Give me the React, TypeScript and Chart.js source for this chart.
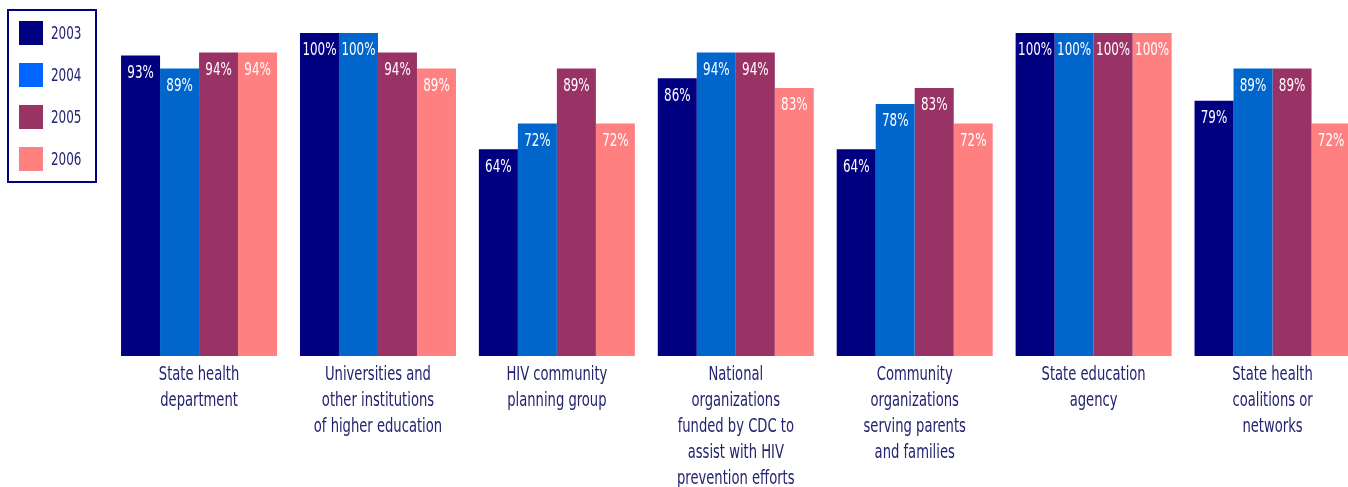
import React, { useEffect, useRef } from "react";
import { Chart, registerables } from "chart.js";

Chart.register(...registerables);

const categories: string[][] = [
  ["State health", "department"],
  ["Universities and", "other institutions", "of higher education"],
  ["HIV community", "planning group"],
  ["National", "organizations", "funded by CDC to", "assist with HIV", "prevention efforts"],
  ["Community", "organizations", "serving parents", "and families"],
  ["State education", "agency"],
  ["State health", "coalitions or", "networks"],
];

const years = ["2003", "2004", "2005", "2006"];

const values2003 = [93, 100, 64, 86, 64, 100, 79];
const values2004 = [89, 100, 72, 94, 78, 100, 89];
const values2005 = [94, 94, 89, 94, 83, 100, 89];
const values2006 = [94, 89, 72, 83, 72, 100, 72];

const barColors = ["#000080", "#0066CC", "#993366", "#FF8080"];
const legendColors = ["#000080", "#0066FF", "#993366", "#FF8080"];
const textColor = "#23236F";
const FONT = '"DejaVu Sans Condensed", "DejaVu Sans", sans-serif';

function drawNarrow(ctx: any, text: string, x: number, y: number, sx: number) {
  ctx.save();
  ctx.translate(x, y);
  ctx.scale(sx, 1);
  ctx.fillText(text, 0, 0);
  ctx.restore();
}

const boxLegendPlugin = {
  id: "boxLegend",
  afterDraw(chart: any) {
    const ctx = chart.ctx;
    ctx.save();
    ctx.strokeStyle = "#000080";
    ctx.lineWidth = 2;
    ctx.strokeRect(8, 10, 88, 172);
    ctx.font = `18px ${FONT}`;
    ctx.textBaseline = "middle";
    ctx.textAlign = "left";
    chart.data.datasets.forEach((ds: any, i: number) => {
      const top = 21 + i * 42;
      ctx.fillStyle = legendColors[i];
      ctx.fillRect(19, top, 24, 24);
      ctx.fillStyle = textColor;
      drawNarrow(ctx, ds.label, 51, top + 13, 0.74);
    });
    ctx.restore();
  },
};

const categoryLabelPlugin = {
  id: "categoryLabels",
  afterDraw(chart: any) {
    const ctx = chart.ctx;
    const xs = chart.scales.x;
    ctx.save();
    ctx.font = `20px ${FONT}`;
    ctx.fillStyle = textColor;
    ctx.textAlign = "center";
    ctx.textBaseline = "middle";
    const labels = chart.data.labels as string[][];
    labels.forEach((lines, i) => {
      const x = xs.getPixelForTick(i);
      lines.forEach((line, k) => {
        drawNarrow(ctx, line, x, xs.top + 19 + k * 26, 0.73);
      });
    });
    ctx.restore();
  },
};

const valueLabelPlugin = {
  id: "valueLabels",
  afterDatasetsDraw(chart: any) {
    const ctx = chart.ctx;
    ctx.save();
    ctx.font = `17px ${FONT}`;
    ctx.fillStyle = "#FFFFFF";
    ctx.textAlign = "center";
    ctx.textBaseline = "middle";
    chart.data.datasets.forEach((ds: any, i: number) => {
      const meta = chart.getDatasetMeta(i);
      meta.data.forEach((bar: any, j: number) => {
        drawNarrow(ctx, `${ds.data[j]}%`, bar.x, bar.y + 18, 0.78);
      });
    });
    ctx.restore();
  },
};

export default function App() {
  const canvasRef = useRef<HTMLCanvasElement | null>(null);

  useEffect(() => {
    const canvas = canvasRef.current;
    if (!canvas) return;
    const series = [values2003, values2004, values2005, values2006];
    const chart = new Chart(canvas, {
      type: "bar",
      data: {
        labels: categories,
        datasets: years.map((y, i) => ({
          label: y,
          data: series[i],
          backgroundColor: barColors[i],
          borderWidth: 0,
          categoryPercentage: 0.872,
          barPercentage: 1,
        })),
      },
      options: {
        responsive: false,
        animation: false,
        devicePixelRatio: 1,
        layout: { padding: { left: 109.6, right: 0, top: 33, bottom: 0 } },
        plugins: {
          legend: { display: false },
          tooltip: { enabled: false },
        },
        scales: {
          x: {
            grid: { display: false, drawTicks: false },
            border: { display: false },
            ticks: { display: false, autoSkip: false, maxRotation: 0, minRotation: 0 },
            afterFit(scale: any) {
              scale.height = 131;
            },
          },
          y: {
            display: false,
            min: 0,
            max: 100,
          },
        },
      },
      plugins: [valueLabelPlugin, categoryLabelPlugin, boxLegendPlugin],
    });
    return () => chart.destroy();
  }, []);

  return (
    <div
      style={{
        position: "fixed",
        left: 0,
        top: 0,
        width: 1348,
        height: 487,
        overflow: "hidden",
        background: "#FFFFFF",
      }}
    >
      <canvas
        ref={canvasRef}
        width={1362}
        height={487}
        style={{ width: 1362, height: 487, display: "block" }}
      />
    </div>
  );
}
